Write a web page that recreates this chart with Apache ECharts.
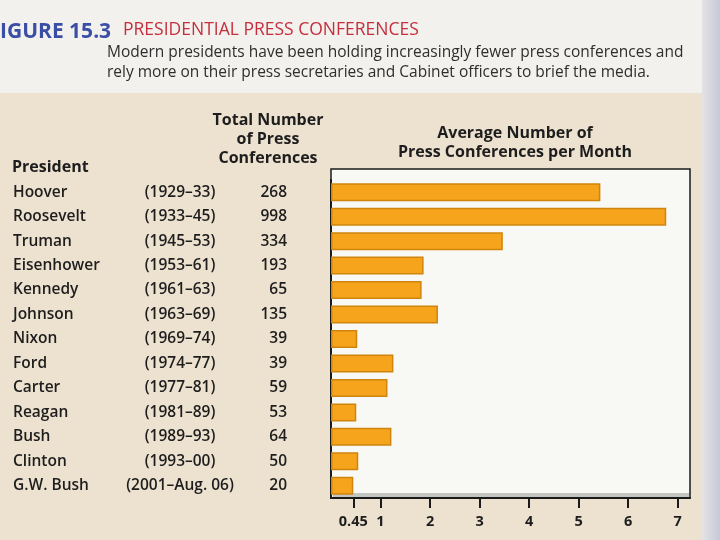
<!DOCTYPE html>
<html>
<head>
<meta charset="utf-8">
<script src="https://cdn.jsdelivr.net/npm/echarts@6/dist/echarts.min.js"></script>
<style>
html,body{margin:0;padding:0;background:#ede2d0;}
#chart{width:720px;height:540px;}
</style>
</head>
<body>
<div id="chart"></div>
<script>
// ---- data ----
var presidents = ['Hoover','Roosevelt','Truman','Eisenhower','Kennedy','Johnson','Nixon','Ford','Carter','Reagan','Bush','Clinton','G.W. Bush'];
var terms = ['(1929–33)','(1933–45)','(1945–53)','(1953–61)','(1961–63)','(1963–69)','(1969–74)','(1974–77)','(1977–81)','(1981–89)','(1989–93)','(1993–00)','(2001–Aug. 06)'];
var totalConferences = [268, 998, 334, 193, 65, 135, 39, 39, 59, 53, 64, 50, 20];
var avgPerMonth = [5.44, 6.77, 3.47, 1.87, 1.83, 2.16, 0.53, 1.26, 1.14, 0.51, 1.22, 0.55, 0.45];
var xTicks = [0.45, 1, 2, 3, 4, 5, 6, 7];

var FONT = '"Open Sans", "Noto Sans", sans-serif';
var ink = '#1d1d1d';

var chart = echarts.init(document.getElementById('chart'), null, {renderer: 'canvas'});

function txt(x, y, s, style) {
  return {type: 'text', x: x, y: y, z: 10, style: Object.assign({text: s, font: '600 15px ' + FONT, fill: ink, textVerticalAlign: 'middle'}, style || {})};
}

var option = {
  backgroundColor: '#ede2d0',
  animation: false,
  grid: {left: 331, right: 30, top: 180, bottom: 42, containLabel: false},
  xAxis: {
    type: 'value', min: 0, max: 7.25,
    axisLine: {show: true, lineStyle: {color: '#1a1a1a', width: 2}},
    axisTick: {show: true, customValues: xTicks, length: 10, lineStyle: {color: '#1a1a1a', width: 2}},
    axisLabel: {show: true, customValues: xTicks, margin: 16, color: ink, fontFamily: FONT, fontWeight: 'bold', fontSize: 14.5,
      formatter: function (v) { return String(v); }},
    splitLine: {show: false}
  },
  yAxis: {
    type: 'category', inverse: true, data: presidents,
    axisLine: {show: true, lineStyle: {color: '#1a1a1a', width: 2}},
    axisTick: {show: false},
    axisLabel: {
      align: 'left', margin: 318, color: ink,
      formatter: function (v, i) {
        return '{n|' + v + '}{y|' + terms[i] + '}{t|' + totalConferences[i] + '}';
      },
      rich: {
        n: {width: 111, align: 'left', fontFamily: FONT, fontWeight: 600, fontSize: 15.5, color: ink},
        y: {width: 112, align: 'center', fontFamily: FONT, fontWeight: 600, fontSize: 15.5, color: ink},
        t: {width: 51, align: 'right', fontFamily: FONT, fontWeight: 600, fontSize: 15.5, color: ink}
      }
    }
  },
  series: [{
    type: 'bar', data: avgPerMonth, barWidth: 18, z: 5,
    itemStyle: {color: '#f6a41b', borderColor: '#cf850d', borderWidth: 1.5}
  }],
  graphic: [
    // page backgrounds
    {type: 'rect', z: -20, shape: {x: 0, y: 0, width: 720, height: 93}, style: {fill: '#f3f1ed'}},
    {type: 'rect', z: -20, shape: {x: 702, y: 0, width: 18, height: 540},
      style: {fill: new echarts.graphic.LinearGradient(0, 0, 1, 0, [{offset: 0, color: '#e4e3e6'}, {offset: 1, color: '#c6c9d6'}])}},
    // chart box
    {type: 'rect', z: -10, shape: {x: 331, y: 169, width: 359, height: 329},
      style: {fill: '#f8f8f4', stroke: '#1a1a1a', lineWidth: 1.5}},
    {type: 'rect', z: -9, shape: {x: 333, y: 493, width: 356, height: 4}, style: {fill: '#c3c5c2'}},
    // titles
    txt(0, 32, 'IGURE 15.3', {font: 'bold 21px ' + FONT, fill: '#3b4ea6'}),
    txt(123, 30, 'PRESIDENTIAL PRESS CONFERENCES', {font: '17.5px ' + FONT, fill: '#c42f3d'}),
    txt(107, 53, 'Modern presidents have been holding increasingly fewer press conferences and', {font: '15.5px ' + FONT, fill: '#2e2e2e'}),
    txt(107, 73, 'rely more on their press secretaries and Cabinet officers to brief the media.', {font: '15.5px ' + FONT, fill: '#2e2e2e'}),
    // column headers
    txt(12, 167, 'President', {font: 'bold 16px ' + FONT}),
    txt(268, 120, 'Total Number', {font: 'bold 16px ' + FONT, textAlign: 'center'}),
    txt(268, 139, 'of Press', {font: 'bold 16px ' + FONT, textAlign: 'center'}),
    txt(268, 158, 'Conferences', {font: 'bold 16px ' + FONT, textAlign: 'center'}),
    txt(515, 133, 'Average Number of', {font: 'bold 16px ' + FONT, textAlign: 'center'}),
    txt(515, 152, 'Press Conferences per Month', {font: 'bold 16px ' + FONT, textAlign: 'center'})
  ]
};
chart.setOption(option);
</script>
</body>
</html>
